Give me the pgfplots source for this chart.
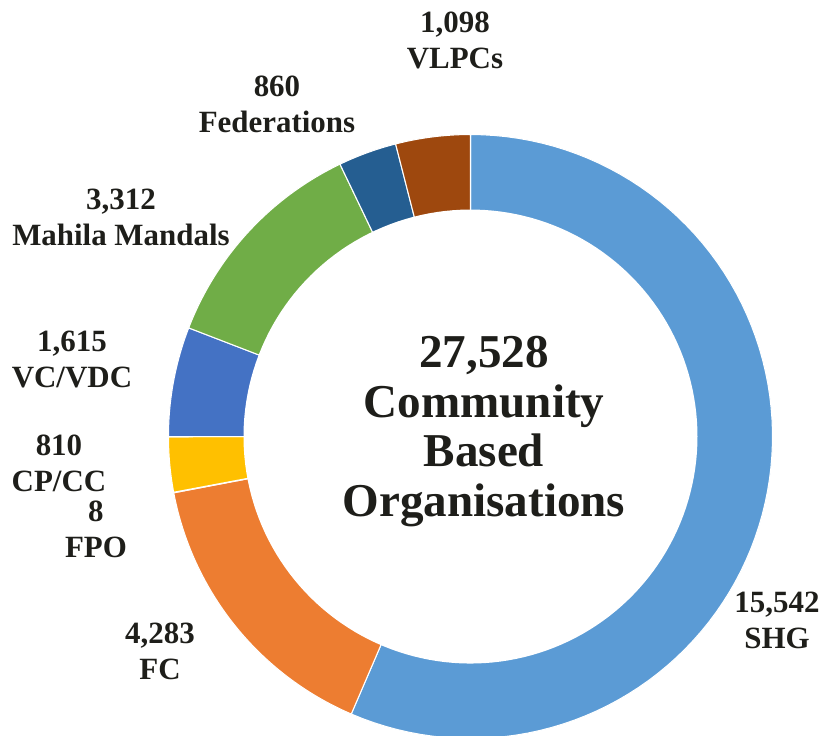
\documentclass[border=0pt]{standalone}
\usepackage{pgfplots}
\pgfplotsset{compat=1.18}
\usepackage{fontspec}
\setmainfont{Liberation Serif}
\definecolor{cSHG}{HTML}{5B9BD5}
\definecolor{cFC}{HTML}{ED7D31}
\definecolor{cFPO}{HTML}{A5A5A5}
\definecolor{cCP}{HTML}{FFC000}
\definecolor{cVC}{HTML}{4472C4}
\definecolor{cMM}{HTML}{70AD47}
\definecolor{cFed}{HTML}{255E91}
\definecolor{cVL}{HTML}{9E480E}
\definecolor{txt}{HTML}{1E1E1A}
\tikzset{lbl/.style={font=\fontsize{8.8}{10.4}\selectfont\bfseries, text=txt, align=center}}
% data: number of community based organisations
\def\vSHG{15542}
\def\vFC{4283}
\def\vFPO{8}
\def\vCP{810}
\def\vVC{1615}
\def\vMM{3312}
\def\vFed{860}
\def\vVL{1098}
\edef\T{\fpeval{\vSHG+\vFC+\vFPO+\vCP+\vVC+\vMM+\vFed+\vVL}}
\edef\sA{90}
\edef\sB{\fpeval{\sA-360*\vSHG/\T}}
\edef\sC{\fpeval{\sB-360*\vFC/\T}}
\edef\sD{\fpeval{\sC-360*\vFPO/\T}}
\edef\sE{\fpeval{\sD-360*\vCP/\T}}
\edef\sF{\fpeval{\sE-360*\vVC/\T}}
\edef\sG{\fpeval{\sF-360*\vMM/\T}}
\edef\sH{\fpeval{\sG-360*\vFed/\T}}
\edef\sI{\fpeval{\sH-360*\vVL/\T}}
\def\cx{470.5}
\def\cy{299}
\def\Ro{302}
\def\Ri{227}
\newcommand{\donutseg}[3]{%
  \addplot[fill=#1, draw=white, line width=0.3pt, domain=#2:#3, samples=90, variable=\t]
    ({\cx+\Ro*cos(\t)},{\cy+\Ro*sin(\t)}) -- (axis cs:\cx,\cy) -- cycle;}
\begin{document}
\begin{tikzpicture}
\begin{axis}[
  width=8.2cm, height=7.36cm, scale only axis,
  xmin=0, xmax=820, ymin=0, ymax=736,
  hide axis, clip=true,
]
\donutseg{cSHG}{\sB}{\sA}
\donutseg{cFC}{\sC}{\sB}
\donutseg{cFPO}{\sD}{\sC}
\donutseg{cCP}{\sE}{\sD}
\donutseg{cVC}{\sF}{\sE}
\donutseg{cMM}{\sG}{\sF}
\donutseg{cFed}{\sH}{\sG}
\donutseg{cVL}{\sI}{\sH}
\addplot[fill=white, draw=none, domain=0:360, samples=180, variable=\t]
  ({\cx+\Ri*cos(\t)},{\cy+\Ri*sin(\t)}) -- cycle;
\node[lbl] at (axis cs:455,695) {1,098\\VLPCs};
\node[lbl] at (axis cs:277,631) {860\\Federations};
\node[lbl] at (axis cs:121,518) {3,312\\Mahila Mandals};
\node[lbl] at (axis cs:72,376) {1,615\\VC/VDC};
\node[lbl] at (axis cs:59,272) {810\\CP/CC};
\node[lbl] at (axis cs:96,206) {8\\FPO};
\node[lbl] at (axis cs:160,84) {4,283\\FC};
\node[lbl] at (axis cs:777,115) {15,542\\SHG};
\node[font=\fontsize{13.4}{14.2}\selectfont\bfseries, text=txt, align=center] at (axis cs:484,304)
  {27,528\\Community\\Based\\Organisations};
\end{axis}
\end{tikzpicture}
\end{document}
